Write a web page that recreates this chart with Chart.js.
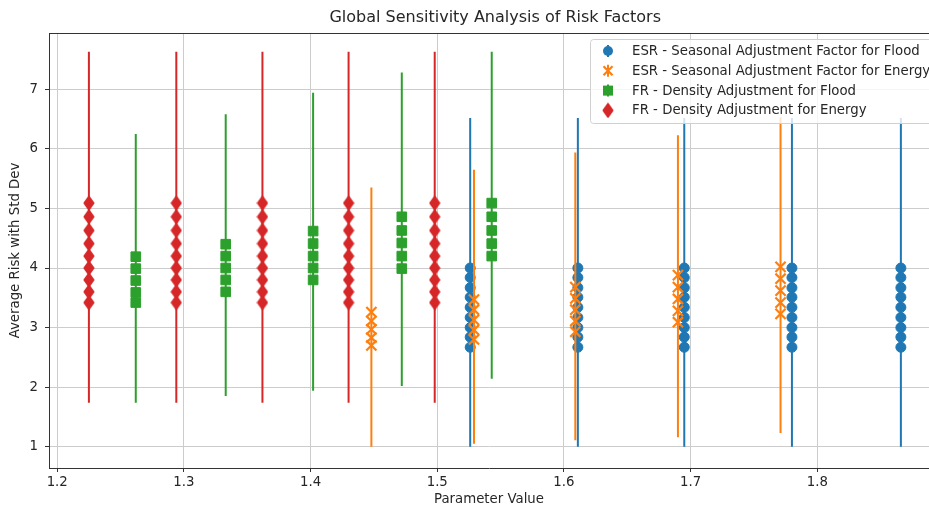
<!DOCTYPE html>
<html>
<head>
<meta charset="utf-8">
<script src="https://cdn.jsdelivr.net/npm/chart.js@4.4.1/dist/chart.umd.min.js"></script>
<style>
  html, body { margin: 0; padding: 0; background: #fff; overflow: hidden; }
  canvas { display: block; }
</style>
</head>
<body>
<canvas id="myChart" width="929" height="508"></canvas>
<script>
// Values

const xTicks = [1.2, 1.3, 1.4, 1.5, 1.6, 1.7, 1.8];
const yTicks = [1, 2, 3, 4, 5, 6, 7];
const xRange = [1.1935, 1.8882];   // visible part of the axes (right edge is cut off)
const xFullMax = 1.898;            // matplotlib's full right limit, used to centre the title
const yRange = [0.643, 7.945];

// ESR - Seasonal Adjustment Factor for Flood (blue circles)
const esrFloodX = [1.526, 1.611, 1.695, 1.780, 1.866];
const esrFloodY = [
  [4.00, 3.84, 3.67, 3.51, 3.34, 3.17, 3.00, 2.84, 2.67],
  [4.00, 3.84, 3.67, 3.51, 3.34, 3.17, 3.00, 2.84, 2.67],
  [4.00, 3.84, 3.67, 3.51, 3.34, 3.17, 3.00, 2.84, 2.67],
  [4.00, 3.84, 3.67, 3.51, 3.34, 3.17, 3.00, 2.84, 2.67],
  [4.00, 3.84, 3.67, 3.51, 3.34, 3.17, 3.00, 2.84, 2.67]
];
const esrFloodLow  = [1.00, 1.00, 1.00, 1.00, 1.00];
const esrFloodHigh = [6.52, 6.52, 6.52, 6.52, 6.52];

// ESR - Seasonal Adjustment Factor for Energy (orange x)
const esrEnergyX = [1.448, 1.529, 1.609, 1.690, 1.771];
const esrEnergyY = [
  [3.26, 3.11, 2.97, 2.83, 2.70],
  [3.47, 3.30, 3.13, 2.96, 2.80],
  [3.68, 3.49, 3.30, 3.11, 2.93],
  [3.88, 3.68, 3.48, 3.28, 3.09],
  [4.02, 3.82, 3.62, 3.42, 3.23]
];
const esrEnergyLow  = [1.00, 1.05, 1.11, 1.16, 1.23];
const esrEnergyHigh = [5.35, 5.65, 5.94, 6.23, 6.53];

// FR - Density Adjustment for Flood (green squares)
const frFloodX = [1.262, 1.333, 1.402, 1.472, 1.543];
const frFloodY = [
  [4.19, 3.99, 3.79, 3.59, 3.42],
  [4.40, 4.20, 4.00, 3.80, 3.60],
  [4.62, 4.41, 4.20, 4.00, 3.80],
  [4.86, 4.63, 4.42, 4.20, 3.99],
  [5.09, 4.86, 4.63, 4.41, 4.20]
];
const frFloodLow  = [1.74, 1.85, 1.94, 2.02, 2.14];
const frFloodHigh = [6.25, 6.58, 6.94, 7.28, 7.63];

// FR - Density Adjustment for Energy (red thin diamonds)
const frEnergyX = [1.225, 1.294, 1.362, 1.430, 1.498];
const frEnergyY = [
  [5.09, 4.86, 4.63, 4.41, 4.20, 4.00, 3.80, 3.60, 3.42],
  [5.09, 4.86, 4.63, 4.41, 4.20, 4.00, 3.80, 3.60, 3.42],
  [5.09, 4.86, 4.63, 4.41, 4.20, 4.00, 3.80, 3.60, 3.42],
  [5.09, 4.86, 4.63, 4.41, 4.20, 4.00, 3.80, 3.60, 3.42],
  [5.09, 4.86, 4.63, 4.41, 4.20, 4.00, 3.80, 3.60, 3.42]
];
const frEnergyLow  = [1.74, 1.74, 1.74, 1.74, 1.74];
const frEnergyHigh = [7.63, 7.63, 7.63, 7.63, 7.63];

const BLUE = '#1f77b4', ORANGE = '#ff7f0e', GREEN = '#2ca02c', RED = '#d62728';
const TEXT = '#262626';
const FONT = "'DejaVu Sans', sans-serif";
const TITLE = 'Global Sensitivity Analysis of Risk Factors';

// thin diamond marker (matplotlib 'd'), with a thin edge like matplotlib
const thinDiamond = document.createElement('canvas');
thinDiamond.width = 12;
thinDiamond.height = 16;
(function () {
  const c = thinDiamond.getContext('2d');
  c.fillStyle = RED;
  c.strokeStyle = RED;
  c.lineWidth = 1.4;
  c.lineJoin = 'round';
  c.beginPath();
  c.moveTo(6, 1.2);
  c.lineTo(10.8, 8);
  c.lineTo(6, 14.8);
  c.lineTo(1.2, 8);
  c.closePath();
  c.fill();
  c.stroke();
})();

// flatten groups into {x, y} points
function markerPoints(xs, groups) {
  const out = [];
  xs.forEach((x, i) => groups[i].forEach(y => out.push({ x: x, y: y })));
  return out;
}

// vertical error segments, null between groups to break the line
function errorSegments(xs, lows, highs) {
  const out = [];
  xs.forEach((x, i) => {
    out.push({ x: x, y: lows[i] });
    out.push({ x: x, y: highs[i] });
    out.push({ x: x, y: null });
  });
  return out;
}

function errDataset(xs, lows, highs, color, order) {
  return {
    data: errorSegments(xs, lows, highs),
    borderColor: color,
    borderWidth: 2,
    pointRadius: 0,
    showLine: true,
    spanGaps: false,
    fill: false,
    order: order
  };
}

function markerDataset(label, xs, groups, color, style, radius, order) {
  return {
    label: label,
    data: markerPoints(xs, groups),
    showLine: false,
    pointStyle: style,
    pointRadius: radius,
    pointBackgroundColor: color,
    pointBorderColor: color,
    pointBorderWidth: style === 'crossRot' ? 2.2 : 1,
    order: order
  };
}

const legendItems = [
  { label: 'ESR - Seasonal Adjustment Factor for Flood', color: BLUE, style: 'circle' },
  { label: 'ESR - Seasonal Adjustment Factor for Energy', color: ORANGE, style: 'cross' },
  { label: 'FR - Density Adjustment for Flood', color: GREEN, style: 'square' },
  { label: 'FR - Density Adjustment for Energy', color: RED, style: 'diamond' }
];

function drawLegendMarker(ctx, item, x, y) {
  ctx.save();
  ctx.strokeStyle = item.color;
  ctx.fillStyle = item.color;
  ctx.lineWidth = 2;
  ctx.beginPath();
  ctx.moveTo(x, y - 6);
  ctx.lineTo(x, y + 6);
  ctx.stroke();
  if (item.style === 'circle') {
    ctx.beginPath();
    ctx.arc(x, y, 5, 0, Math.PI * 2);
    ctx.fill();
  } else if (item.style === 'square') {
    ctx.fillRect(x - 5, y - 5, 10, 10);
  } else if (item.style === 'cross') {
    ctx.lineWidth = 2.2;
    ctx.beginPath();
    ctx.moveTo(x - 4.5, y - 4.5); ctx.lineTo(x + 4.5, y + 4.5);
    ctx.moveTo(x + 4.5, y - 4.5); ctx.lineTo(x - 4.5, y + 4.5);
    ctx.stroke();
  } else {
    ctx.drawImage(thinDiamond, x - 6, y - 8);
  }
  ctx.restore();
}

// title, top spine and legend box inside the axes (matplotlib style)
const framePlugin = {
  id: 'frame',
  afterDatasetsDraw(chart) {
    const { ctx, chartArea } = chart;
    ctx.save();
    ctx.strokeStyle = '#333';
    ctx.lineWidth = 1;
    ctx.beginPath();
    ctx.moveTo(chartArea.left, chartArea.top + 0.5);
    ctx.lineTo(chartArea.right, chartArea.top + 0.5);
    ctx.stroke();
    ctx.restore();
  },
  afterDraw(chart) {
    const ctx = chart.ctx;
    const xs = chart.scales.x;
    ctx.save();
    // title centred over the full (uncropped) axes
    const cx = (xs.getPixelForValue(xRange[0]) + xs.getPixelForValue(xFullMax)) / 2;
    ctx.font = '16px ' + FONT;
    ctx.fillStyle = TEXT;
    ctx.textAlign = 'center';
    ctx.textBaseline = 'middle';
    ctx.fillText(TITLE, cx, 18);

    const bx = 590.5, by = 39.5, bw = 380, bh = 84, r = 3;
    ctx.beginPath();
    ctx.moveTo(bx + r, by);
    ctx.lineTo(bx + bw, by);
    ctx.lineTo(bx + bw, by + bh);
    ctx.lineTo(bx + r, by + bh);
    ctx.arcTo(bx, by + bh, bx, by + bh - r, r);
    ctx.lineTo(bx, by + r);
    ctx.arcTo(bx, by, bx + r, by, r);
    ctx.closePath();
    ctx.fillStyle = 'rgba(255,255,255,0.8)';
    ctx.fill();
    ctx.strokeStyle = '#d0d0d0';
    ctx.lineWidth = 1;
    ctx.stroke();
    ctx.font = '13.3px ' + FONT;
    ctx.textAlign = 'left';
    ctx.textBaseline = 'middle';
    legendItems.forEach((item, i) => {
      const y = 51 + i * 19.8;
      drawLegendMarker(ctx, item, 608, y);
      ctx.fillStyle = TEXT;
      ctx.fillText(item.label, 632, y + 0.5);
    });
    ctx.restore();
  }
};

Chart.defaults.font.family = FONT;
Chart.defaults.font.size = 13.3;
Chart.defaults.color = TEXT;

const ctx = document.getElementById('myChart').getContext('2d');
new Chart(ctx, {
  type: 'line',
  data: {
    datasets: [
      errDataset(esrFloodX, esrFloodLow, esrFloodHigh, BLUE, 8),
      markerDataset(legendItems[0].label, esrFloodX, esrFloodY, BLUE, 'circle', 5, 7),
      errDataset(esrEnergyX, esrEnergyLow, esrEnergyHigh, ORANGE, 6),
      markerDataset(legendItems[1].label, esrEnergyX, esrEnergyY, ORANGE, 'crossRot', 7.2, 5),
      errDataset(frFloodX, frFloodLow, frFloodHigh, GREEN, 4),
      markerDataset(legendItems[2].label, frFloodX, frFloodY, GREEN, 'rect', 6.8, 3),
      errDataset(frEnergyX, frEnergyLow, frEnergyHigh, RED, 2),
      markerDataset(legendItems[3].label, frEnergyX, frEnergyY, RED, thinDiamond, 6, 1)
    ]
  },
  options: {
    responsive: false,
    animation: false,
    events: [],
    layout: { autoPadding: false, padding: { left: 0, right: 0, top: 33, bottom: 0 } },
    plugins: {
      legend: { display: false },
      tooltip: { enabled: false },
      title: { display: false }
    },
    scales: {
      x: {
        type: 'linear',
        min: xRange[0],
        max: xRange[1],
        afterBuildTicks: s => { s.ticks = xTicks.map(v => ({ value: v })); },
        afterFit: s => { s.height = 40; s.paddingLeft = 0; s.paddingRight = 0; },
        ticks: {
          callback: v => v.toFixed(1),
          padding: 3,
          maxRotation: 0,
          color: TEXT
        },
        grid: { color: '#cccccc', lineWidth: 1, tickColor: '#333', tickLength: 4 },
        border: { color: '#333', width: 1 },
        title: {
          display: true,
          text: 'Parameter Value',
          color: TEXT,
          padding: { top: 0, bottom: 0 }
        }
      },
      y: {
        type: 'linear',
        min: yRange[0],
        max: yRange[1],
        afterBuildTicks: s => { s.ticks = yTicks.map(v => ({ value: v })); },
        afterFit: s => { s.width = 49; s.paddingTop = 0; s.paddingBottom = 0; },
        ticks: {
          callback: v => String(v),
          padding: 7,
          color: TEXT
        },
        grid: { color: '#cccccc', lineWidth: 1, tickColor: '#333', tickLength: 4 },
        border: { color: '#333', width: 1 },
        title: {
          display: true,
          text: 'Average Risk with Std Dev',
          color: TEXT,
          padding: { top: 8, bottom: 0 }
        }
      }
    }
  },
  plugins: [framePlugin]
});
</script>
</body>
</html>
